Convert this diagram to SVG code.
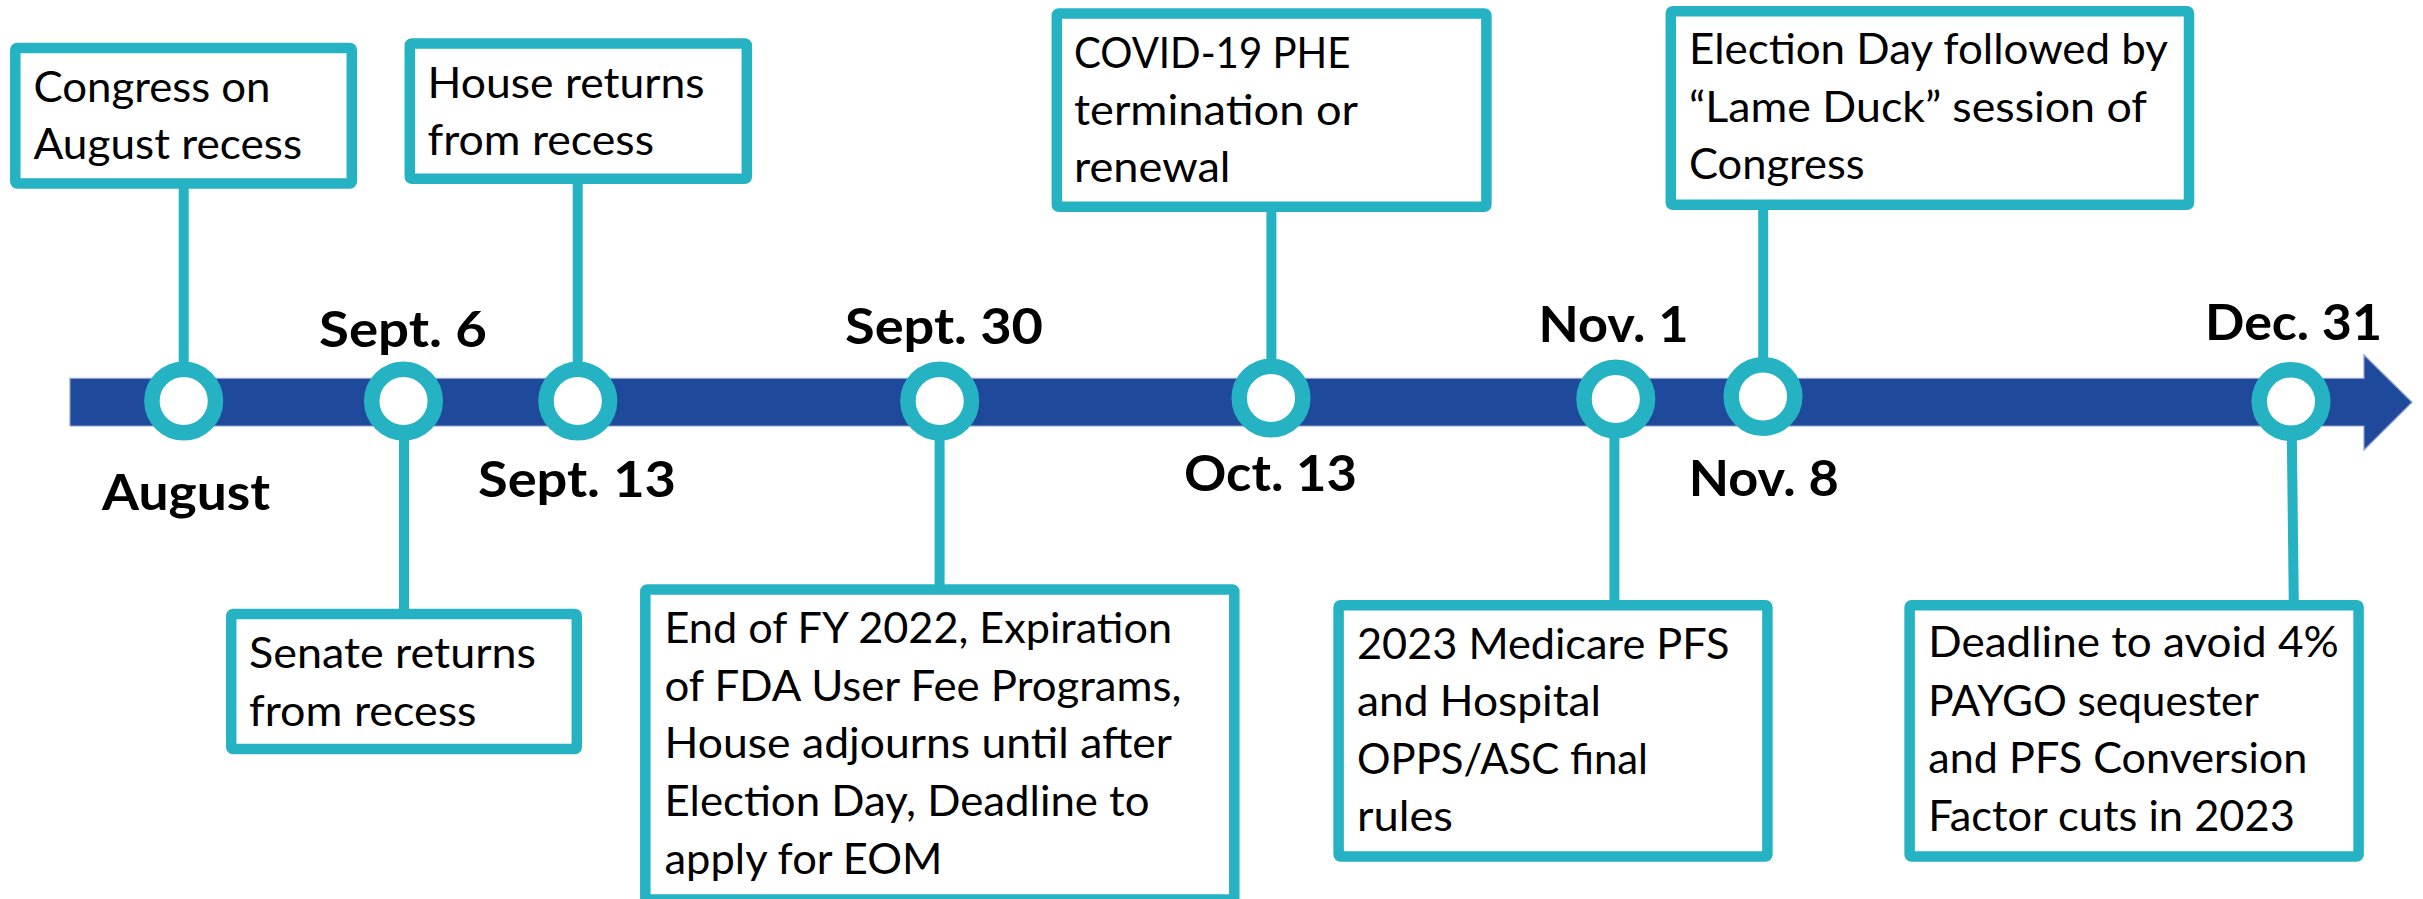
<svg xmlns="http://www.w3.org/2000/svg" width="2423" height="899" viewBox="0 0 2423 899">
  <style>
    .bg { fill: #ffffff; }
    .link { stroke: #25B3C3; stroke-width: 10; fill: none; }
    .bar { fill: #1F4A9C; stroke: #8E9FCF; stroke-width: 1.2; }
    .ring { fill: #ffffff; stroke: #25B3C3; stroke-width: 15.5; }
    .frame { fill: #ffffff; stroke: #25B3C3; stroke-width: 10.5; stroke-linejoin: round; }
    .note { font-family: "Lato", "Liberation Sans", sans-serif; font-size: 42px; fill: #000000; }
    .date { font-family: "Lato", "Liberation Sans", sans-serif; font-size: 50px; font-weight: 700; fill: #000000; }
  </style>

  <rect class="bg" x="0" y="0" width="2423" height="899"/>

  <!-- vertical leaders between boxes and timeline markers -->
  <g id="connectors">
    <line class="link" x1="183.7" y1="185" x2="183.7" y2="401"/>
    <line class="link" x1="577.7" y1="180" x2="577.7" y2="401"/>
    <line class="link" x1="1271.4" y1="208" x2="1271.4" y2="398"/>
    <line class="link" x1="1763.2" y1="206" x2="1763.2" y2="396.5"/>
    <line class="link" x1="404" y1="401" x2="404" y2="613"/>
    <line class="link" x1="939.6" y1="401" x2="939.6" y2="588"/>
    <line class="link" x1="1614.4" y1="399" x2="1614.4" y2="604"/>
    <line class="link" x1="2291.4" y1="401.5" x2="2293.8" y2="604"/>
  </g>

  <!-- main time axis with arrowhead -->
  <g id="timeline">
    <path class="bar" d="M70,378.3 H2364 V355 L2412,402.3 L2364,450 V426 H70 Z"/>
  </g>

  <!-- milestone markers and date labels -->
  <g id="m-august">
    <circle class="ring" cx="183.7" cy="401" r="31.8"/>
    <text class="date" x="102" y="510" textLength="168" lengthAdjust="spacingAndGlyphs">August</text>
  </g>
  <g id="m-sept6">
    <circle class="ring" cx="403.5" cy="401" r="31.8"/>
    <text class="date" x="319" y="347" textLength="168" lengthAdjust="spacingAndGlyphs">Sept. 6</text>
  </g>
  <g id="m-sept13">
    <circle class="ring" cx="577.8" cy="401" r="31.8"/>
    <text class="date" x="478" y="496.7" textLength="198" lengthAdjust="spacingAndGlyphs">Sept. 13</text>
  </g>
  <g id="m-sept30">
    <circle class="ring" cx="939.7" cy="401" r="31.8"/>
    <text class="date" x="845" y="343.5" textLength="198" lengthAdjust="spacingAndGlyphs">Sept. 30</text>
  </g>
  <g id="m-oct13">
    <circle class="ring" cx="1271" cy="398" r="31.8"/>
    <text class="date" x="1184" y="491" textLength="173" lengthAdjust="spacingAndGlyphs">Oct. 13</text>
  </g>
  <g id="m-nov1">
    <circle class="ring" cx="1615.8" cy="399" r="31.8"/>
    <text class="date" x="1538.5" y="342" textLength="150" lengthAdjust="spacingAndGlyphs">Nov. 1</text>
  </g>
  <g id="m-nov8">
    <circle class="ring" cx="1763" cy="396.5" r="31.8"/>
    <text class="date" x="1688.8" y="495.5" textLength="150" lengthAdjust="spacingAndGlyphs">Nov. 8</text>
  </g>
  <g id="m-dec31">
    <circle class="ring" cx="2291" cy="401.5" r="31.8"/>
    <text class="date" x="2205" y="340" textLength="177" lengthAdjust="spacingAndGlyphs">Dec. 31</text>
  </g>

  <!-- event boxes -->
  <g id="n-congress-recess">
    <rect class="frame" x="15.3" y="48" width="336.5" height="135.5" rx="2"/>
    <text class="note" x="33.5" y="101.7" textLength="237" lengthAdjust="spacingAndGlyphs">Congress on</text>
    <text class="note" x="33.5" y="159.3" textLength="268.5" lengthAdjust="spacingAndGlyphs">August recess</text>
  </g>
  <g id="n-house-returns">
    <rect class="frame" x="409.8" y="43.5" width="337" height="135.3" rx="2"/>
    <text class="note" x="427.5" y="97.8" textLength="277" lengthAdjust="spacingAndGlyphs">House returns</text>
    <text class="note" x="427.5" y="155.3" textLength="226.5" lengthAdjust="spacingAndGlyphs">from recess</text>
  </g>
  <g id="n-senate-returns">
    <rect class="frame" x="231.2" y="614" width="345.6" height="135" rx="2"/>
    <text class="note" x="249" y="667.7" textLength="287" lengthAdjust="spacingAndGlyphs">Senate returns</text>
    <text class="note" x="249" y="725.7" textLength="227.5" lengthAdjust="spacingAndGlyphs">from recess</text>
  </g>
  <g id="n-fy-end">
    <rect class="frame" x="645.3" y="589.5" width="589" height="310" rx="2"/>
    <text class="note" x="664.5" y="643.3" textLength="507.5" lengthAdjust="spacingAndGlyphs">End of FY 2022, Expiration</text>
    <text class="note" x="664.5" y="700.7" textLength="517" lengthAdjust="spacingAndGlyphs">of FDA User Fee Programs,</text>
    <text class="note" x="664.5" y="758.3" textLength="507.5" lengthAdjust="spacingAndGlyphs">House adjourns until after</text>
    <text class="note" x="664.5" y="816" textLength="485" lengthAdjust="spacingAndGlyphs">Election Day, Deadline to</text>
    <text class="note" x="664.5" y="874" textLength="278" lengthAdjust="spacingAndGlyphs">apply for EOM</text>
  </g>
  <g id="n-covid-phe">
    <rect class="frame" x="1056.8" y="13.5" width="429.6" height="193.3" rx="2"/>
    <text class="note" x="1074" y="67.7" textLength="276.5" lengthAdjust="spacingAndGlyphs">COVID-19 PHE</text>
    <text class="note" x="1074" y="125" textLength="284" lengthAdjust="spacingAndGlyphs">termination or</text>
    <text class="note" x="1074" y="182.3" textLength="156.5" lengthAdjust="spacingAndGlyphs">renewal</text>
  </g>
  <g id="n-medicare-rules">
    <rect class="frame" x="1338.6" y="605.2" width="428.8" height="251.3" rx="2"/>
    <text class="note" x="1357" y="659" textLength="372.5" lengthAdjust="spacingAndGlyphs">2023 Medicare PFS</text>
    <text class="note" x="1357" y="716.4" textLength="244" lengthAdjust="spacingAndGlyphs">and Hospital</text>
    <text class="note" x="1357" y="773.7" textLength="291" lengthAdjust="spacingAndGlyphs">OPPS/ASC final</text>
    <text class="note" x="1357" y="831" textLength="96" lengthAdjust="spacingAndGlyphs">rules</text>
  </g>
  <g id="n-election-day">
    <rect class="frame" x="1670.8" y="11.2" width="518.2" height="193.6" rx="2"/>
    <text class="note" x="1689" y="64" textLength="479" lengthAdjust="spacingAndGlyphs">Election Day followed by</text>
    <text class="note" x="1689" y="121.7" textLength="458" lengthAdjust="spacingAndGlyphs">“Lame Duck” session of</text>
    <text class="note" x="1689" y="179" textLength="175.5" lengthAdjust="spacingAndGlyphs">Congress</text>
  </g>
  <g id="n-paygo-deadline">
    <rect class="frame" x="1909.6" y="605.2" width="449" height="251.3" rx="2"/>
    <text class="note" x="1928.3" y="657.3" textLength="410.5" lengthAdjust="spacingAndGlyphs">Deadline to avoid 4%</text>
    <text class="note" x="1928.3" y="715.7" textLength="330.5" lengthAdjust="spacingAndGlyphs">PAYGO sequester</text>
    <text class="note" x="1928.3" y="772.7" textLength="379" lengthAdjust="spacingAndGlyphs">and PFS Conversion</text>
    <text class="note" x="1928.3" y="831" textLength="366.5" lengthAdjust="spacingAndGlyphs">Factor cuts in 2023</text>
  </g>
</svg>
